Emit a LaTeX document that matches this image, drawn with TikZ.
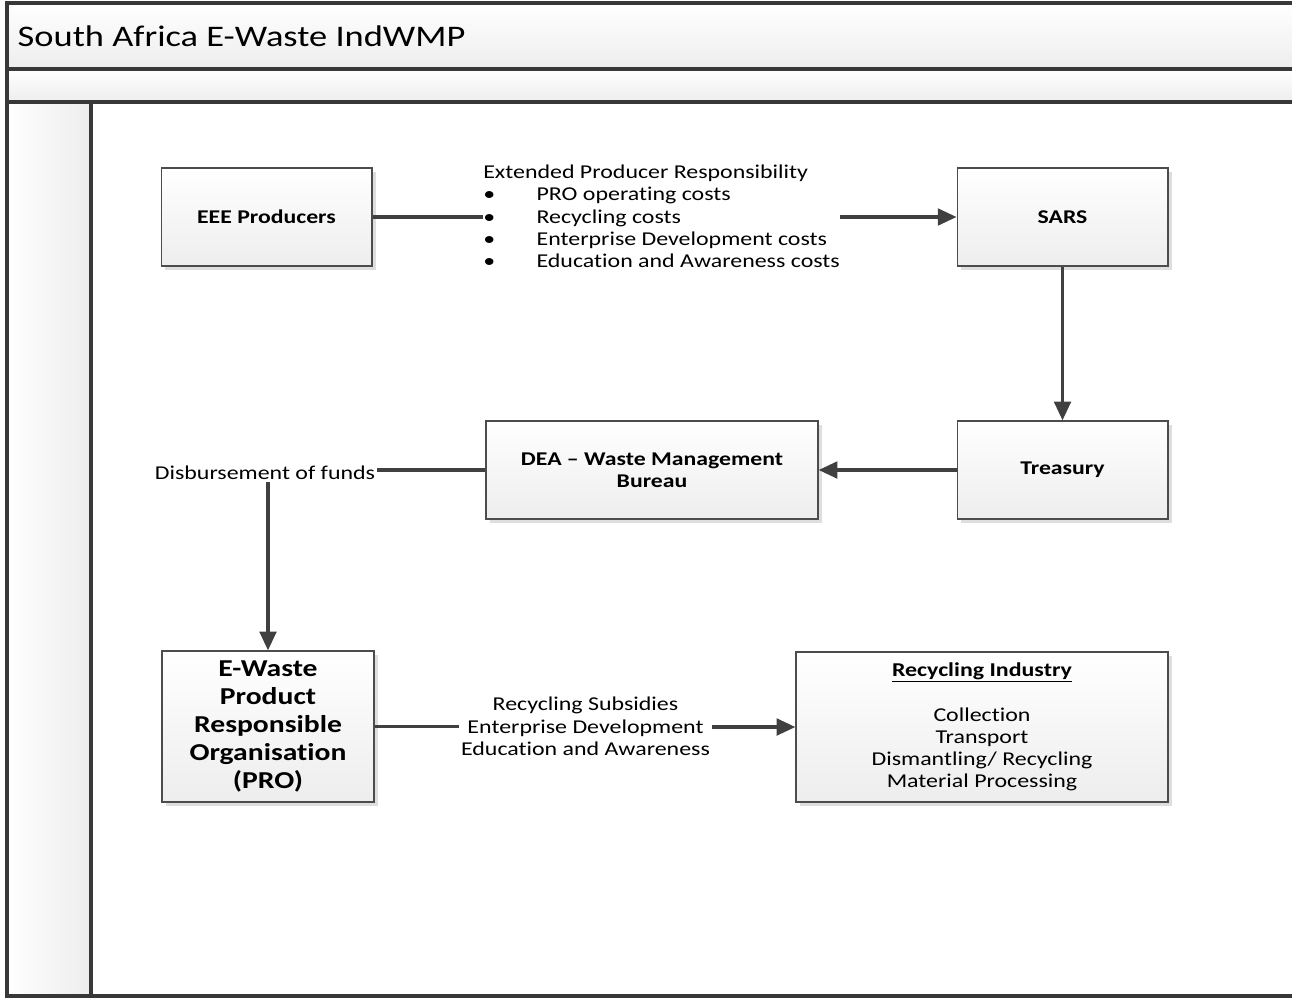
\documentclass[tikz,border=0pt]{standalone}
\usepackage{fontspec}
\setmainfont{Carlito}[FakeStretch=1.22,Ligatures=NoCommon]
\usepackage{tikz}
\usetikzlibrary{arrows.meta,shadows}

\tikzset{
  lane/.style={draw=black!78,line width=2.3pt},
  box/.style={draw=black!70,line width=1pt,top color=white,bottom color=black!7,
    drop shadow={shadow xshift=3pt,shadow yshift=-3pt,fill=black!13,opacity=1},
    font=\bfseries\fontsize{14.6}{16.7}\selectfont,align=center,
    minimum width=158pt,minimum height=73.5pt,inner sep=2pt},
  flow/.style={draw=black!75,line width=2.3pt},
  arrowline/.style={flow,-{Triangle[length=14pt,width=12.5pt]}},
  lbl/.style={font=\fontsize{14.7}{16.7}\selectfont,inner sep=1.5pt}
}

\begin{document}
\begin{tikzpicture}[x=0.75pt,y=-0.75pt]
\useasboundingbox (0,0) rectangle (1292,1000);
\fill[top color=white,bottom color=black!7] (7,3) rectangle (1310,69);
\fill[top color=white,bottom color=black!7] (7,69) rectangle (1310,102);
\fill[left color=white,right color=black!7] (7,102) rectangle (91,996);
\draw[lane] (7,3) rectangle (1310,996);
\foreach \y in {69,102}
\draw[lane] (7,\y) -- (1310,\y);
\draw[lane] (91,102) -- (91,996);
\node[anchor=west,font=\fontsize{22.4}{26}\selectfont] (title) at (13,36) {South Africa E-Waste IndWMP};

\node[box] (eee) at (266.5,217) {EEE Producers};
\node[box] (sars) at (1062.5,217) {SARS};
\node[box] (treas) at (1062.5,470) {Treasury};
\node[box,minimum width=249pt] (dea) at (652,470) {DEA – Waste Management\\Bureau};
\node[box,minimum width=159pt,minimum height=113.25pt,font=\bfseries\fontsize{18.2}{21}\selectfont] (pro) at (268,726.5) {E-Waste\\Product\\Responsible\\Organisation\\(PRO)};
\node[box,minimum width=279pt,minimum height=112.5pt,font=\fontsize{14.7}{16.7}\selectfont] (recyc) at (982,727) {\underline{\textbf{Recycling Industry}}\\[16.7pt]Collection\\Transport\\Dismantling/ Recycling\\Material Processing};

\node[lbl,anchor=west,align=left,inner sep=0pt] (epr) at (483,216.5) {Extended Producer Responsibility\\
\makebox[40pt][l]{\textbullet}PRO operating costs\\
\makebox[40pt][l]{\textbullet}Recycling costs\\
\makebox[40pt][l]{\textbullet}Enterprise Development costs\\
\makebox[40pt][l]{\textbullet}Education and Awareness costs};
\node[lbl] (disb) at (265,473) {Disbursement of funds};
\node[lbl,align=center] (subs) at (585.5,726.5) {Recycling Subsidies\\Enterprise Development\\Education and Awareness};

\draw[flow] (eee.east) -- (eee.east -| epr.west);
\draw[arrowline] (epr.east |- sars.west) -- (sars.west);
\draw[arrowline] (sars) -- (treas);
\draw[arrowline] (treas) -- (dea);
\draw[flow] (dea.west) -- (dea.west -| disb.east);
\draw[arrowline] (disb.south -| pro.north) -- (pro.north);
\draw[flow] (pro.east) -- (pro.east -| subs.west);
\draw[arrowline] (subs.east |- recyc.west) -- (recyc.west);
\end{tikzpicture}
\end{document}
